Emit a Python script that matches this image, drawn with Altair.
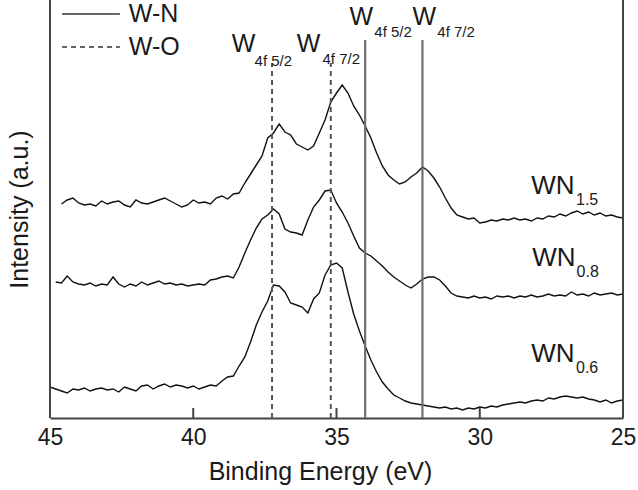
import altair as alt
import pandas as pd

# ---------------- data ----------------
energy = [round(45 - 0.2 * i, 1) for i in range(101)]  # binding energy grid (eV)

wn15 = [None, None, 214, 218, 220, 215, 213, 214, 212, 217,
        214, 216, 217, 213, 211, 218, 215, 214, 216, 218,
        220, 217, 214, 211, 213, 218, 215, 216, 214, 220,
        222, 219, 224, 225, 235, 244, 253, 262, 280, 285,
        294, 286, 283, 274, 271, 268, 272, 285, 298, 316,
        325, 333, 325, 312, 303, 292, 280, 265, 252, 243,
        238, 234, 236, 241, 245, 251, 247, 240, 231, 220,
        210, 203, 201, 199, 200, 195, 196, 198, 197, 199,
        198, 200, 198, 199, 197, 200, 199, 202, 201, 204,
        202, 205, 207, 204, 206, 203, 205, 202, 203, 201,
        200]

wn08 = [None, 136, 135, 142, 136, 134, 133, 135, 132, 134,
        133, 141, 134, 131, 134, 132, 136, 133, 135, 137,
        134, 135, 133, 134, 132, 133, 134, 133, 138, 139,
        141, 142, 140, 151, 165, 178, 190, 199, 203, 209,
        204, 189, 186, 185, 183, 198, 211, 218, 227, 228,
        215, 206, 195, 182, 170, 165, 162, 157, 152, 146,
        141, 137, 133, 130, 134, 139, 141, 141, 138, 132,
        125, 122, 121, 120, 122, 120, 121, 119, 122, 121,
        122, 120, 122, 121, 123, 121, 122, 124, 122, 123,
        122, 126, 123, 124, 122, 125, 123, 124, 125, 123,
        124]

wn06 = [31, 29, 27, 25, 29, 28, 30, 27, 29, 30,
        28, 29, 26, 31, 29, 27, 32, 33, 29, 32,
        34, 31, 33, 32, 30, 32, 29, 31, 33, 32,
        37, 41, 42, 52, 61, 76, 93, 106, 117, 133,
        132, 126, 115, 113, 111, 105, 119, 125, 143, 153,
        155, 150, 126, 104, 87, 72, 58, 46, 36, 29,
        23, 20, 17, 15, 14, 13, 12, 11, 10, 11,
        9, 10, 8, 10, 9, 11, 10, 12, 11, 13,
        14, 15, 16, 15, 17, 18, 17, 20, 19, 21,
        22, 21, 20, 21, 19, 18, 16, 18, 15, 17,
        18]

tick_values = [45, 40, 35, 30, 25]
intensity_range = [0, 418]

ref_energy = [37.25, 35.2, 34.0, 32.0]
ref_kind = ["W-O", "W-O", "W-N", "W-N"]
ref_top = [355, 355, 378, 378]

peak_main = ["W", "W", "W", "W"]
peak_sub = ["4f 5/2", "4f 7/2", "4f 5/2", "4f 7/2"]
peak_main_E = [38.66, 36.39, 34.55, 32.35]
peak_main_I = [374, 374, 401, 401]
peak_sub_E = [37.86, 35.49, 33.68, 31.48]
peak_sub_I = [357, 359, 386, 386]

sample_main = ["WN", "WN", "WN"]
sample_sub = ["1.5", "0.8", "0.6"]
sample_E = [28.2, 28.17, 28.2]
sample_I = [232, 160, 64]
sample_sub_E = [26.64, 26.62, 26.64]
sample_sub_I = [218, 146, 50]

legend_labels = ["W-N", "W-O"]
legend_line_E = [44.58, 42.56]
legend_I = [404, 371]
legend_text_E = 42.25

# ---------------- build tables ----------------
spec = pd.DataFrame({"E": energy, "WN1.5": wn15, "WN0.8": wn08, "WN0.6": wn06})
long = spec.melt("E", var_name="sample", value_name="I").dropna()

FONT = "Liberation Sans"
TXT = "#1a1a1a"
AX = "#444444"
xs = alt.Scale(domain=[tick_values[0], tick_values[-1]], nice=False, zero=False)
ys = alt.Scale(domain=intensity_range, nice=False, zero=False)

xaxis = alt.Axis(values=tick_values, format="d", ticks=False, grid=False,
                 labelFlush=False, labelOverlap=False,
                 domainColor=AX, domainWidth=2, labelFontSize=23,
                 labelColor=TXT, labelFont=FONT, labelPadding=8,
                 titleFontSize=25, titleFont=FONT, titleColor=TXT,
                 titleFontWeight="normal", titlePadding=10,
                 titleX=270, titleAnchor="start", titleAlign="center")
yaxis = alt.Axis(labels=False, ticks=False, domain=False, grid=False,
                 titleFontSize=25, titleFont=FONT, titleColor=TXT,
                 titleFontWeight="normal", titlePadding=18)
XT = "Binding Energy (eV)"
YT = "Intensity (a.u.)"


def X(f):
    return alt.X(f, scale=xs, axis=xaxis, title=XT)


def Y(f):
    return alt.Y(f, scale=ys, axis=yaxis, title=YT)


curves = alt.Chart(long).mark_line(color="#111111", strokeWidth=1.4).encode(
    x=X("E:Q"), y=Y("I:Q"), detail="sample:N")

# frame (left/right sides)
frame_df = pd.DataFrame({"E": [tick_values[0], tick_values[-1]],
                         "lo": [intensity_range[0]] * 2, "hi": [intensity_range[1]] * 2})
frame = alt.Chart(frame_df).mark_rule(color=AX, strokeWidth=2).encode(
    x=X("E:Q"), y=Y("lo:Q"), y2="hi:Q")

# inward tick marks
tk_df = pd.DataFrame({"E": tick_values[1:-1], "lo": [0] * 3, "hi": [10] * 3})
ticks = alt.Chart(tk_df).mark_rule(color=AX, strokeWidth=2).encode(
    x=X("E:Q"), y=Y("lo:Q"), y2="hi:Q")

ref_df = pd.DataFrame({"E": ref_energy, "kind": ref_kind, "top": ref_top,
                       "lo": [0] * 4})
ref_dashed = alt.Chart(ref_df).transform_filter(alt.datum.kind == "W-O").mark_rule(
    color="#555555", strokeWidth=2, strokeDash=[5, 4]).encode(
    x=X("E:Q"), y=Y("lo:Q"), y2="top:Q")
ref_solid = alt.Chart(ref_df).transform_filter(alt.datum.kind == "W-N").mark_rule(
    color="#6e6e6e", strokeWidth=2.2).encode(
    x=X("E:Q"), y=Y("lo:Q"), y2="top:Q")


def texts(df, size):
    return alt.Chart(df).mark_text(align="left", baseline="middle", fontSize=size,
                                   font=FONT, color=TXT).encode(
        x=X("E:Q"), y=Y("I:Q"), text="t:N")


pk_main = texts(pd.DataFrame({"E": peak_main_E, "I": peak_main_I, "t": peak_main}), 25)
pk_sub = texts(pd.DataFrame({"E": peak_sub_E, "I": peak_sub_I, "t": peak_sub}), 15)
sm_main = texts(pd.DataFrame({"E": sample_E, "I": sample_I, "t": sample_main}), 26)
sm_sub = texts(pd.DataFrame({"E": sample_sub_E, "I": sample_sub_I, "t": sample_sub}), 16)
lg_text = texts(pd.DataFrame({"E": [legend_text_E] * 2, "I": legend_I,
                              "t": legend_labels}), 25)

lg_df = pd.DataFrame({"E1": [legend_line_E[0]] * 2, "E2": [legend_line_E[1]] * 2,
                      "I": legend_I, "kind": legend_labels})
lg_solid = alt.Chart(lg_df).transform_filter(alt.datum.kind == "W-N").mark_rule(
    color="#333333", strokeWidth=1.5).encode(
    x=X("E1:Q"), x2="E2:Q", y=Y("I:Q"))
lg_dash = alt.Chart(lg_df).transform_filter(alt.datum.kind == "W-O").mark_rule(
    color="#333333", strokeWidth=1.5, strokeDash=[5, 4]).encode(
    x=X("E1:Q"), x2="E2:Q", y=Y("I:Q"))

chart = alt.layer(
    curves, ref_dashed, ref_solid, frame, ticks,
    pk_main, pk_sub, sm_main, sm_sub, lg_solid, lg_dash, lg_text,
).properties(
    width=573, height=418,
    autosize=alt.AutoSizeParams(type="none"),
    padding={"left": 50, "top": 0, "right": 15, "bottom": 72},
    background="white",
).configure_view(stroke=None)

chart.save("out.html", embed_options={"renderer": "svg", "actions": False})
